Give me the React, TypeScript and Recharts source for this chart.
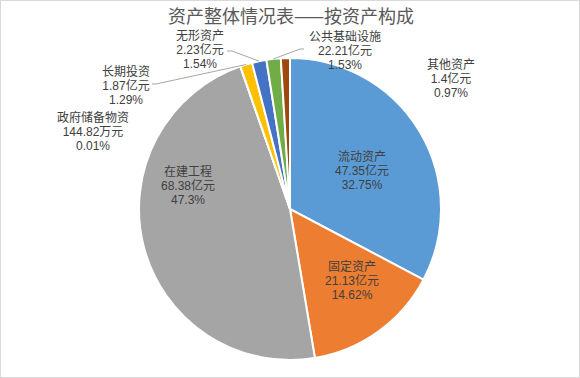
import { PieChart, Pie, Cell } from "recharts";

const names = [
  "流动资产",
  "固定资产",
  "在建工程",
  "政府储备物资",
  "长期投资",
  "无形资产",
  "公共基础设施",
  "其他资产",
];
const amounts = ["47.35", "21.13", "68.38", "144.82", "1.87", "2.23", "22.21", "1.4"];
const units = ["亿元", "亿元", "亿元", "万元", "亿元", "亿元", "亿元", "亿元"];
const percents = [32.75, 14.62, 47.3, 0.01, 1.29, 1.54, 1.53, 0.97];

const colors = [
  "#5B9BD5",
  "#ED7D31",
  "#A5A5A5",
  "#264478",
  "#FFC000",
  "#4472C4",
  "#70AD47",
  "#9E480E",
];

// label centre (first row) relative to pie centre; leader start/elbow for small slices
const labelPos: { dx: number; dy: number; lead?: [number, number][] }[] = [
  { dx: 72, dy: -52 },
  { dx: 62, dy: 58 },
  { dx: -102, dy: -37 },
  { dx: -197, dy: -91 },
  { dx: -164, dy: -137, lead: [[-138, -125], [-134, -125]] },
  { dx: -90, dy: -173, lead: [[-63, -158], [-58, -158]] },
  { dx: 55, dy: -172, lead: [[14, -160], [10, -160]] },
  { dx: 161, dy: -144 },
];

const data = names.map((name, i) => ({
  name,
  value: percents[i],
  amount: amounts[i] + units[i],
  pct: percents[i] + "%",
}));

const RADIAN = Math.PI / 180;
const font = "'Noto Sans CJK SC', 'Noto Sans', sans-serif";
const labelFont = "'Liberation Sans', 'Noto Sans CJK SC', sans-serif";

const renderLabel = (props: any) => {
  const { cx, cy, midAngle, outerRadius, index } = props;
  const pos = labelPos[index];
  const x = cx + pos.dx;
  const y = cy + pos.dy;
  const d = data[index];
  let line = null;
  if (pos.lead) {
    const px = cx + outerRadius * Math.cos(-midAngle * RADIAN);
    const py = cy + outerRadius * Math.sin(-midAngle * RADIAN);
    const pts = pos.lead.map(([a, b]) => `${cx + a},${cy + b}`).join(" ");
    line = (
      <polyline
        points={`${pts} ${px},${py}`}
        fill="none"
        stroke="#A6A6A6"
        strokeWidth={1}
      />
    );
  }
  const rows = [d.name, d.amount, d.pct];
  return (
    <g key={`lbl-${index}`}>
      {line}
      {rows.map((r, k) => (
        <text
          key={k}
          x={x}
          y={y + k * 14 + 4}
          textAnchor="middle"
          fontSize={12}
          fontFamily={labelFont}
          fill="#404040"
        >
          {r}
        </text>
      ))}
    </g>
  );
};

export default function App() {
  return (
    <div
      style={{
        position: "absolute",
        left: 0,
        top: 0,
        width: 580,
        height: 378,
        boxSizing: "border-box",
        border: "1px solid #D9D9D9",
        background: "#fff",
      }}
    >
      <div
        style={{
          position: "absolute",
          left: 0,
          top: 1,
          width: 580,
          textAlign: "center",
          fontFamily: font,
          fontSize: 18,
          color: "#595959",
          lineHeight: "26px",
        }}
      >
        资产整体情况表——按资产构成
      </div>
      <div style={{ position: "absolute", left: -1, top: -1 }}>
        <PieChart width={580} height={378} margin={{ top: 0, right: 0, bottom: 0, left: 0 }}>
          <Pie
            data={data}
            dataKey="value"
            nameKey="name"
            cx={290}
            cy={209}
            outerRadius={151}
            startAngle={90}
            endAngle={-270}
            stroke="#FFFFFF"
            strokeWidth={2}
            label={renderLabel}
            labelLine={false}
            isAnimationActive={false}
          >
            {data.map((_, i) => (
              <Cell key={i} fill={colors[i]} />
            ))}
          </Pie>
        </PieChart>
      </div>
    </div>
  );
}
